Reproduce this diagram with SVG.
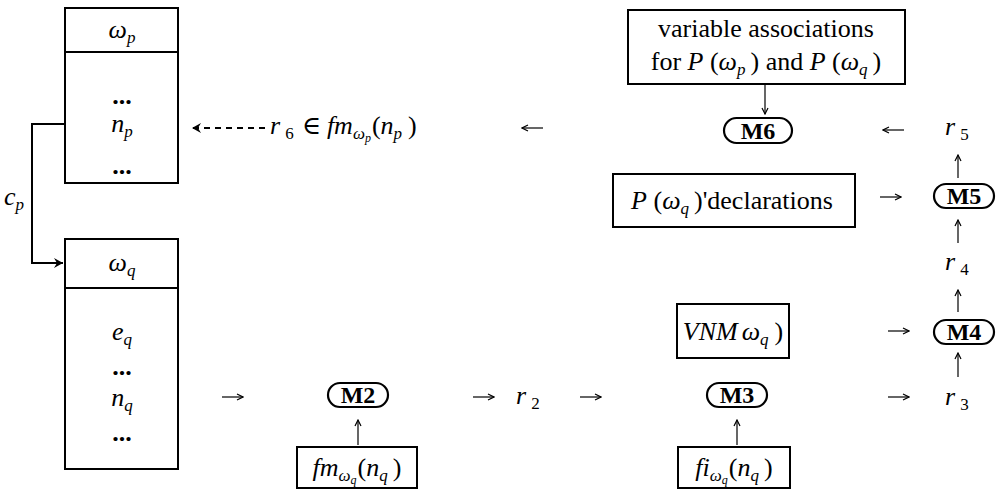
<svg xmlns="http://www.w3.org/2000/svg" width="1000" height="490" viewBox="0 0 1000 490">
<defs>
<style>
.box{fill:none;stroke:#000;stroke-width:2}
.pill{fill:#fff;stroke:#000;stroke-width:2.2}
.t{font-family:"Liberation Serif","DejaVu Serif",serif;font-size:26px;fill:#000}
.i{font-style:italic}
.b{font-weight:bold}
.m{font-family:"Liberation Serif","DejaVu Serif",serif;font-size:24px;font-weight:bold;fill:#000}
.s{font-size:17px;font-style:italic}
.sn{font-size:17px;font-style:normal}
.ss{font-size:12px;font-style:italic}
.c{stroke:#000;stroke-width:1.2;fill:none}
.thick{stroke:#000;stroke-width:2;fill:none}
</style>
<marker id="ah" markerWidth="8" markerHeight="8" refX="7" refY="4" orient="auto" markerUnits="userSpaceOnUse">
<path d="M1,1 L7,4 L1,7" fill="none" stroke="#000" stroke-width="1.2"/>
</marker>
<marker id="ahf" markerWidth="12" markerHeight="12" refX="10" refY="6" orient="auto" markerUnits="userSpaceOnUse">
<path d="M1,1 L10,6 L1,11 L4,6 Z" fill="#000"/>
</marker>
</defs>
<rect width="1000" height="490" fill="#fff"/>

<g id="omega-p">
<rect class="box" x="65" y="8" width="113" height="175"/>
<line class="box" x1="65" y1="52" x2="178" y2="52"/>
<text class="t i" x="122" y="38" text-anchor="middle">ω<tspan class="s" dy="5">p</tspan></text>
<text class="t b" x="122" y="104" text-anchor="middle" font-size="20">...</text>
<text class="t i" x="122" y="132" text-anchor="middle">n<tspan class="s" dy="5">p</tspan></text>
<text class="t b" x="122" y="174" text-anchor="middle" font-size="20">...</text>
</g>

<g id="omega-q">
<rect class="box" x="65" y="239" width="113" height="230"/>
<line class="box" x1="65" y1="288" x2="178" y2="288"/>
<text class="t i" x="122" y="271" text-anchor="middle">ω<tspan class="s" dy="5">q</tspan></text>
<text class="t i" x="122" y="340" text-anchor="middle">e<tspan class="s" dy="5">q</tspan></text>
<text class="t b" x="122" y="375" text-anchor="middle" font-size="20">...</text>
<text class="t i" x="122" y="406" text-anchor="middle">n<tspan class="s" dy="5">q</tspan></text>
<text class="t b" x="122" y="441" text-anchor="middle" font-size="20">...</text>
</g>

<g id="cp-label">
<text class="t i" x="4" y="205">c<tspan class="s" dy="5">p</tspan></text>
</g>

<g id="r6-label">
<text class="t i" x="270" y="134">r<tspan class="sn" dx="5" dy="5">6</tspan><tspan dx="8" dy="-5" font-style="normal">∈</tspan><tspan dx="6">fm</tspan><tspan class="s" dy="5">ω</tspan><tspan class="ss" dy="3">p</tspan><tspan dx="1" dy="-8" font-style="normal">(</tspan><tspan>n</tspan><tspan class="s" dy="5">p</tspan><tspan dy="-5" dx="6" font-style="normal">)</tspan></text>
</g>

<g id="M2">
<rect class="pill" x="328" y="383" width="60" height="24" rx="12"/>
<text class="m" x="358" y="403" text-anchor="middle">M2</text>
</g>
<g id="fm-box">
<rect class="box" x="297" y="447" width="120" height="41"/>
<text class="t i" x="357" y="476" text-anchor="middle">fm<tspan class="s" dy="5">ω</tspan><tspan class="ss" dy="3">q</tspan><tspan dx="1" dy="-8" font-style="normal">(</tspan><tspan>n</tspan><tspan class="s" dy="5">q</tspan><tspan dy="-5" dx="5" font-style="normal">)</tspan></text>
</g>

<g id="r2-label">
<text class="t i" x="516" y="404">r<tspan class="sn" dx="5" dy="5">2</tspan></text>
</g>

<g id="M3">
<rect class="pill" x="707" y="383" width="60" height="24" rx="12"/>
<text class="m" x="737" y="403" text-anchor="middle">M3</text>
</g>
<g id="fi-box">
<rect class="box" x="678" y="447" width="112" height="41"/>
<text class="t i" x="734" y="476" text-anchor="middle">fi<tspan class="s" dy="5">ω</tspan><tspan class="ss" dy="3">q</tspan><tspan dx="1" dy="-8" font-style="normal">(</tspan><tspan>n</tspan><tspan class="s" dy="5">q</tspan><tspan dy="-5" dx="5" font-style="normal">)</tspan></text>
</g>

<g id="VNM-box">
<rect class="box" x="677" y="304" width="112" height="54"/>
<text class="t i" x="733" y="340" text-anchor="middle">VNM<tspan dx="4">ω</tspan><tspan class="s" dy="5">q</tspan><tspan dy="-5" dx="6" font-style="normal">)</tspan></text>
</g>

<g id="r3-label">
<text class="t i" x="945" y="405">r<tspan class="sn" dx="5" dy="5">3</tspan></text>
</g>

<g id="M4">
<rect class="pill" x="934" y="320" width="60" height="24" rx="12"/>
<text class="m" x="964" y="340" text-anchor="middle">M4</text>
</g>

<g id="r4-label">
<text class="t i" x="945" y="270">r<tspan class="sn" dx="5" dy="5">4</tspan></text>
</g>

<g id="M5">
<rect class="pill" x="934" y="184" width="60" height="24" rx="12"/>
<text class="m" x="964" y="204" text-anchor="middle">M5</text>
</g>

<g id="Pdecl-box">
<rect class="box" x="613" y="174" width="242" height="53"/>
<text class="t" x="732" y="209" text-anchor="middle"><tspan font-style="italic">P</tspan> (<tspan font-style="italic">ω</tspan><tspan class="s" dy="5">q</tspan><tspan dy="-5" dx="5">)'declarations</tspan></text>
</g>

<g id="r5-label">
<text class="t i" x="945" y="135">r<tspan class="sn" dx="5" dy="5">5</tspan></text>
</g>

<g id="M6">
<rect class="pill" x="724" y="118" width="68" height="25" rx="12.5"/>
<text class="m" x="758" y="139" text-anchor="middle">M6</text>
</g>

<g id="var-box">
<rect class="box" x="628" y="10" width="277" height="74"/>
<text class="t" x="766" y="37" text-anchor="middle">variable associations</text>
<text class="t" x="766" y="70" text-anchor="middle">for <tspan font-style="italic">P</tspan> (<tspan font-style="italic">ω</tspan><tspan class="s" dy="5">p</tspan><tspan dy="-5" dx="5">) and </tspan><tspan font-style="italic">P</tspan> (<tspan font-style="italic">ω</tspan><tspan class="s" dy="5">q</tspan><tspan dy="-5" dx="5">)</tspan></text>
</g>

<g id="connectors">
<path class="thick" d="M65,124 H32 V263 H63" marker-end="url(#ahf)"/>
<line class="thick" x1="265" y1="128" x2="192" y2="128" stroke-dasharray="6,5" marker-end="url(#ahf)"/>
<line class="c" x1="222" y1="397" x2="243" y2="397" marker-end="url(#ah)"/>
<line class="c" x1="358" y1="445" x2="358" y2="420" marker-end="url(#ah)"/>
<line class="c" x1="473" y1="397" x2="494" y2="397" marker-end="url(#ah)"/>
<line class="c" x1="580" y1="397" x2="601" y2="397" marker-end="url(#ah)"/>
<line class="c" x1="737" y1="445" x2="737" y2="420" marker-end="url(#ah)"/>
<line class="c" x1="888" y1="397" x2="909" y2="397" marker-end="url(#ah)"/>
<line class="c" x1="958" y1="377" x2="958" y2="353" marker-end="url(#ah)"/>
<line class="c" x1="958" y1="312" x2="958" y2="290" marker-end="url(#ah)"/>
<line class="c" x1="958" y1="243" x2="958" y2="220" marker-end="url(#ah)"/>
<line class="c" x1="958" y1="178" x2="958" y2="155" marker-end="url(#ah)"/>
<line class="c" x1="888" y1="331" x2="909" y2="331" marker-end="url(#ah)"/>
<line class="c" x1="880" y1="197" x2="901" y2="197" marker-end="url(#ah)"/>
<line class="c" x1="904" y1="130" x2="883" y2="130" marker-end="url(#ah)"/>
<line class="c" x1="765" y1="85" x2="765" y2="114" marker-end="url(#ah)"/>
<line class="c" x1="543" y1="128" x2="522" y2="128" marker-end="url(#ah)"/>
</g>
</svg>
